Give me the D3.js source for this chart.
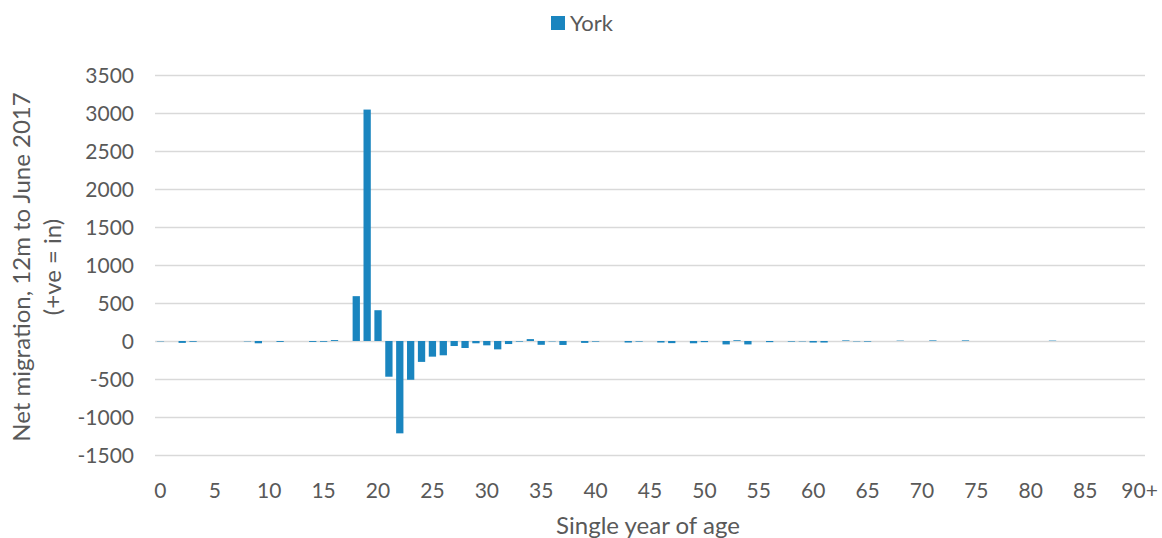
<!DOCTYPE html>
<html lang="en">
<head>
<meta charset="utf-8">
<title>York net migration by age</title>
<script src="https://cdn.jsdelivr.net/npm/d3@7"></script>
<style>
  body { margin: 0; background: #fff; }
  text { font-family: Lato, "Open Sans", sans-serif; fill: #595959; }
</style>
</head>
<body>
<svg id="chart" width="1162" height="538"></svg>
<script>
// ages 0..89 then 90+
var ages = d3.range(0, 90).map(String).concat(["90+"]);

// net migration, York, 12m to June 2017
var york = [
  -5, 0, -25, -10, 0, 0, 0, 0, -5, -30,       // 0-9
  0, -12, 0, 0, -12, -10, 12, 0, 590, 3045,   // 10-19
  405, -470, -1215, -510, -275, -206, -188, -66, -92, -30, // 20-29
  -57, -110, -40, -8, 25, -50, -5, -52, 0, -25, // 30-39
  -8, 0, 0, -20, -8, 0, -20, -28, 0, -30,     // 40-49
  -15, 0, -45, 10, -45, 0, -15, 0, -8, -5,    // 50-59
  -20, -20, 0, 8, -5, -8, 0, 0, 5, 0,         // 60-69
  0, 8, 0, 0, 8, 0, 0, 0, 0, 0,               // 70-79
  0, 0, 5, 0, 0, 0, 0, 0, 0, 0,               // 80-89
  0                                           // 90+
];

var yTicks = [-1500, -1000, -500, 0, 500, 1000, 1500, 2000, 2500, 3000, 3500];
var xLabels = ["0","5","10","15","20","25","30","35","40","45","50","55","60","65","70","75","80","85","90+"];

var barColor = "#1a85bf";
var gridColor = "#d9d9d9";

var margin = { left: 155, right: 17, top: 75, bottom: 83 };
var W = 1162, H = 538;

var svg = d3.select("#chart");

var x = d3.scaleBand()
  .domain(ages)
  .range([margin.left, W - margin.right])
  .paddingInner(0.33)
  .paddingOuter(0.165);

var y = d3.scaleLinear()
  .domain([-1500, 3500])
  .range([H - margin.bottom, margin.top]);

// gridlines
svg.append("g")
  .selectAll("line")
  .data(yTicks)
  .enter()
  .append("line")
  .attr("x1", margin.left)
  .attr("x2", W - margin.right)
  .attr("y1", function(d) { return Math.round(y(d)) + 0.5; })
  .attr("y2", function(d) { return Math.round(y(d)) + 0.5; })
  .attr("stroke", gridColor)
  .attr("stroke-width", 1.3);

// y tick labels
svg.append("g")
  .selectAll("text")
  .data(yTicks)
  .enter()
  .append("text")
  .attr("x", 134)
  .attr("y", function(d) { return y(d); })
  .attr("dy", "0.36em")
  .attr("text-anchor", "end")
  .style("font-size", "21px")
  .text(function(d) { return d; });

// bars
svg.append("g")
  .selectAll("rect")
  .data(york)
  .enter()
  .append("rect")
  .attr("x", function(d, i) { return x(ages[i]); })
  .attr("width", x.bandwidth())
  .attr("y", function(d) { return y(Math.max(0, d)); })
  .attr("height", function(d) { return Math.abs(y(d) - y(0)); })
  .attr("fill", barColor);

// x tick labels (every 5th age)
svg.append("g")
  .selectAll("text")
  .data(xLabels)
  .enter()
  .append("text")
  .attr("x", function(d) { return x(d) + x.bandwidth() / 2; })
  .attr("y", 490)
  .attr("dy", "0.36em")
  .attr("text-anchor", "middle")
  .style("font-size", "21px")
  .text(function(d) { return d; });

// axis titles
svg.append("text")
  .attr("x", 648)
  .attr("y", 525)
  .attr("dy", "0.36em")
  .attr("text-anchor", "middle")
  .style("font-size", "24px")
  .text("Single year of age");

var yTitle = svg.append("text")
  .attr("transform", "translate(0,267) rotate(-90)")
  .attr("text-anchor", "middle")
  .style("font-size", "24px");
yTitle.append("tspan").attr("x", 0).attr("y", 30).text("Net migration, 12m to June 2017");
yTitle.append("tspan").attr("x", 0).attr("y", 61).text("(+ve = in)");

// legend
var legend = svg.append("g");
legend.append("rect")
  .attr("x", 551).attr("y", 16)
  .attr("width", 14).attr("height", 14)
  .attr("fill", barColor);
legend.append("text")
  .attr("x", 570).attr("y", 23)
  .attr("dy", "0.36em")
  .style("font-size", "22px")
  .text("York");
</script>
</body>
</html>
